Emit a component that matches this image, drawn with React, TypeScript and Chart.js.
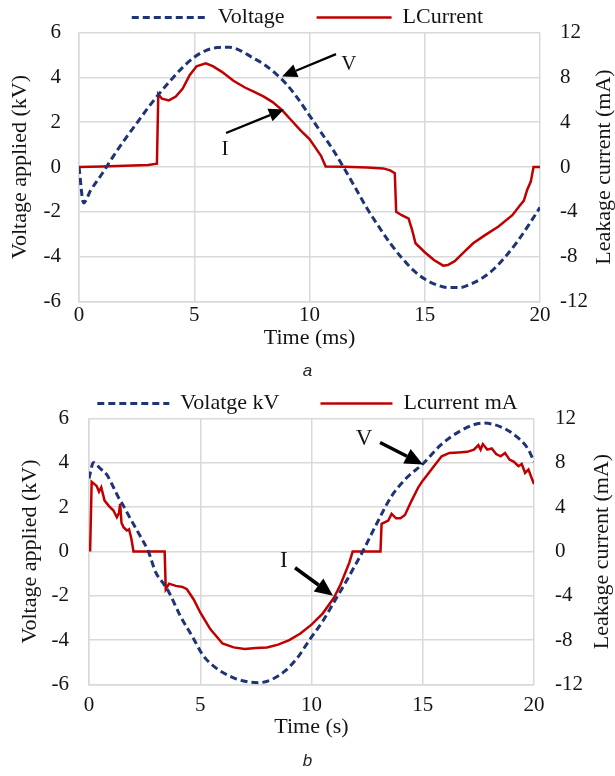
import React, { useEffect, useRef } from 'react';
import { Chart, registerables } from 'chart.js';

Chart.register(...registerables);

const SERIF = '"Liberation Serif", "Times New Roman", serif';
const SANS = '"Liberation Sans", Arial, sans-serif';
const VOLT_COLOR = '#1f3474';
const CURR_COLOR = '#c00000';
const GRID = '#d9d9d9';
const INK = '#141414';

// ---- Panel (a): one mains cycle, time in ms ----
const timeVoltageA = [0, 0.2, 0.5, 1.0, 1.5, 2.0, 2.5, 3.0, 3.5, 4.0, 4.5, 5.0, 5.5, 6.0, 6.5, 7.0, 7.5, 8.0, 8.5, 9.0, 9.5, 10.0, 10.5, 11.0, 11.5, 12.0, 12.5, 13.0, 13.5, 14.0, 14.5, 15.0, 15.5, 16.0, 16.5, 17.0, 17.5, 18.0, 18.5, 19.0, 19.5, 20.0];
const voltageA = [0, -1.6, -1.05, -0.3, 0.5, 1.25, 1.95, 2.65, 3.3, 3.9, 4.45, 4.9, 5.2, 5.33, 5.35, 5.2, 4.9, 4.6, 4.2, 3.7, 3.05, 2.3, 1.55, 0.8, -0.05, -0.95, -1.85, -2.65, -3.4, -4.05, -4.6, -5.0, -5.25, -5.38, -5.38, -5.22, -4.95, -4.55, -4.0, -3.35, -2.6, -1.8];
const timeCurrentA = [0, 1, 2, 3, 3.38, 3.44, 3.6, 3.9, 4.2, 4.5, 4.8, 5.1, 5.5, 5.8, 6.2, 6.7, 7.2, 7.6, 8.0, 8.4, 8.8, 9.2, 9.6, 10.0, 10.3, 10.5, 10.7, 11.5, 12.5, 13.2, 13.5, 13.7, 13.76, 14.0, 14.3, 14.45, 14.6, 15.0, 15.4, 15.8, 16.0, 16.3, 16.7, 17.1, 17.6, 18.2, 18.8, 19.1, 19.3, 19.45, 19.6, 19.72, 20.0];
const currentA = [0, 0.06, 0.12, 0.18, 0.3, 6.5, 6.1, 5.95, 6.3, 7.0, 8.2, 9.0, 9.25, 9.0, 8.5, 7.7, 7.1, 6.7, 6.3, 5.8, 5.1, 4.2, 3.3, 2.5, 1.6, 1.0, 0.05, 0.02, -0.05, -0.12, -0.3, -0.55, -4.0, -4.3, -4.6, -5.6, -6.8, -7.6, -8.3, -8.8, -8.75, -8.4, -7.6, -6.8, -6.1, -5.3, -4.3, -3.5, -3.0, -2.0, -1.3, 0, 0];

// ---- Panel (b): slow cycle, time in s ----
const timeVoltageB = [0, 0.2, 0.5, 0.8, 1.1, 1.4, 1.5, 1.84, 2.3, 2.67, 3.0, 3.35, 3.6, 4.1, 4.7, 5.1, 5.7, 6.5, 7.0, 7.6, 8.2, 8.8, 9.4, 9.9, 10.5, 11.0, 11.5, 12.0, 12.3, 12.9, 13.6, 14.3, 15.0, 15.8, 16.7, 17.7, 18.5, 19.2, 19.75, 20.0];
const voltageB = [3.3, 4.02, 3.75, 3.47, 2.9, 2.3, 2.15, 1.52, 0.7, 0, -0.94, -1.45, -1.85, -2.9, -3.93, -4.65, -5.25, -5.7, -5.85, -5.92, -5.78, -5.4, -4.75, -4.0, -3.15, -2.3, -1.45, -0.55, 0, 1.2, 2.5, 3.35, 3.95, 4.8, 5.45, 5.8, 5.63, 5.2, 4.6, 4.05];
const timeCurrentB = [0.05, 0.12, 0.18, 0.35, 0.45, 0.55, 0.7, 0.9, 1.1, 1.25, 1.35, 1.4, 1.46, 1.55, 1.7, 1.8, 1.9, 2.0, 3.4, 3.45, 3.6, 3.9, 4.2, 4.4, 4.7, 5.0, 5.45, 6.0, 6.5, 7.0, 7.5, 8.0, 8.5, 9.0, 9.5, 10.0, 10.5, 11.0, 11.3, 11.5, 11.7, 11.85, 13.1, 13.15, 13.45, 13.6, 13.8, 14.0, 14.2, 14.5, 14.8, 15.0, 15.2, 15.5, 15.85, 16.2, 16.6, 17.0, 17.3, 17.5, 17.6, 17.7, 17.9, 18.1, 18.3, 18.5, 18.7, 18.9, 19.1, 19.3, 19.45, 19.6, 19.75, 19.9, 20.0];
const currentB = [0, 6.3, 6.2, 5.9, 5.4, 5.8, 4.6, 4.1, 3.7, 3.1, 3.5, 4.3, 2.6, 2.2, 1.9, 2.0, 1.2, 0, 0, -3.4, -2.9, -3.1, -3.2, -3.4, -4.3, -5.5, -7.0, -8.3, -8.65, -8.8, -8.7, -8.65, -8.4, -8.0, -7.4, -6.6, -5.6, -4.2, -3.0, -2.0, -1.0, 0, 0, 2.5, 2.8, 3.4, 3.0, 3.0, 3.3, 4.6, 5.8, 6.4, 6.9, 7.7, 8.6, 8.9, 8.95, 9.0, 9.2, 9.6, 9.2, 9.7, 9.2, 9.3, 8.8, 8.6, 8.9, 8.3, 8.1, 7.7, 7.9, 7.1, 7.4, 6.6, 6.1];

// Arrow call-outs, in axis units (time, kV)
const notesA = [
  { text: 'V', at: [11.71, 4.59], tail: [11.15, 5.04], tip: [8.81, 4.04] },
  { text: 'I', at: [6.33, 0.78], tail: [6.38, 1.52], tip: [8.89, 2.57] },
];
const notesB = [
  { text: 'V', at: [12.36, 5.1], tail: [13.08, 4.92], tip: [15.01, 3.93] },
  { text: 'I', at: [8.76, -0.42], tail: [9.26, -0.73], tip: [10.97, -1.99] },
];

const toPoints = (xs: number[], ys: number[]) => xs.map((x, i) => ({ x, y: ys[i] }));

// Draws labelled arrows pointing at the curves
const arrowNotes = {
  id: 'arrowNotes',
  afterDatasetsDraw(chart: any, _args: any, opts: any) {
    const items = opts.items || [];
    const { ctx } = chart;
    const xs = chart.scales.x;
    const ys = chart.scales.y;
    items.forEach((n: any) => {
      const tx = xs.getPixelForValue(n.tail[0]);
      const ty = ys.getPixelForValue(n.tail[1]);
      const hx = xs.getPixelForValue(n.tip[0]);
      const hy = ys.getPixelForValue(n.tip[1]);
      const ang = Math.atan2(hy - ty, hx - tx);
      const head = opts.head;
      const half = head * 0.45;
      const bx = hx - Math.cos(ang) * head;
      const by = hy - Math.sin(ang) * head;
      ctx.save();
      ctx.strokeStyle = '#000';
      ctx.fillStyle = '#000';
      ctx.lineWidth = opts.width;
      ctx.beginPath();
      ctx.moveTo(tx, ty);
      ctx.lineTo(bx, by);
      ctx.stroke();
      ctx.beginPath();
      ctx.moveTo(hx, hy);
      ctx.lineTo(bx + Math.sin(ang) * half, by - Math.cos(ang) * half);
      ctx.lineTo(bx - Math.sin(ang) * half, by + Math.cos(ang) * half);
      ctx.closePath();
      ctx.fill();
      ctx.font = `${opts.size}px ${SERIF}`;
      ctx.fillStyle = INK;
      ctx.textAlign = 'center';
      ctx.textBaseline = 'middle';
      ctx.fillText(n.text, xs.getPixelForValue(n.at[0]), ys.getPixelForValue(n.at[1]));
      ctx.restore();
    });
  },
};

// Secondary-axis title, reading bottom to top
const sideTitle = {
  id: 'sideTitle',
  afterDraw(chart: any, _args: any, opts: any) {
    if (!opts.text) return;
    const { ctx, chartArea } = chart;
    const scale = chart.scales.y1;
    ctx.save();
    ctx.translate(scale.right - opts.offset, (chartArea.top + chartArea.bottom) / 2);
    ctx.rotate(-Math.PI / 2);
    ctx.font = `${opts.size}px ${SERIF}`;
    ctx.fillStyle = INK;
    ctx.textAlign = 'center';
    ctx.textBaseline = 'middle';
    ctx.fillText(opts.text, 0, 0);
    ctx.restore();
  },
};

// Legend entries drawn as line samples carrying each series' own dash
function lineLegendLabels(chart: any) {
  const items = Chart.defaults.plugins.legend.labels.generateLabels(chart);
  return items.map((item: any) => {
    const ds = chart.data.datasets[item.datasetIndex];
    return {
      ...item,
      pointStyle: 'line',
      lineDash: ds.borderDash || [],
      lineWidth: ds.borderWidth,
      strokeStyle: ds.borderColor,
      fillStyle: ds.borderColor,
    };
  });
}

type Spec = {
  tv: number[]; v: number[]; ti: number[]; i: number[];
  voltageLabel: string; currentLabel: string; xTitle: string; caption: string;
  notes: any[];
  legendTop: number; legendHeight: number; legendPad: number; legendBox: number;
  leftWidth: number; rightWidth: number; yPad: number; y1Pad: number;
  xPad: number; xHeight: number; leftTitlePad: number; rightTitleOffset: number;
  capTop: number; capBottom: number; noteSize: number; arrowWidth: number; arrowHead: number;
};

function buildConfig(p: Spec): any {
  const tickFont = { family: SERIF, size: 21 };
  const titleFont = { family: SERIF, size: 22 };
  return {
    type: 'line',
    data: {
      datasets: [
        {
          label: p.voltageLabel,
          data: toPoints(p.tv, p.v),
          yAxisID: 'y',
          borderColor: VOLT_COLOR,
          backgroundColor: VOLT_COLOR,
          borderWidth: 3,
          borderDash: [7, 4],
          pointRadius: 0,
          pointStyle: 'line',
          cubicInterpolationMode: 'monotone',
          fill: false,
        },
        {
          label: p.currentLabel,
          data: toPoints(p.ti, p.i),
          yAxisID: 'y1',
          borderColor: CURR_COLOR,
          backgroundColor: CURR_COLOR,
          borderWidth: 2.5,
          pointRadius: 0,
          pointStyle: 'line',
          tension: 0,
          fill: false,
        },
      ],
    },
    options: {
      responsive: false,
      animation: false,
      devicePixelRatio: 1,
      layout: { padding: { top: p.legendTop, left: 0, right: 0, bottom: 0 } },
      plugins: {
        legend: {
          position: 'top',
          maxHeight: p.legendHeight,
          labels: {
            usePointStyle: true,
            pointStyleWidth: p.legendBox,
            padding: p.legendPad,
            color: INK,
            font: titleFont,
            generateLabels: lineLegendLabels,
          },
        },
        title: {
          display: true,
          position: 'bottom',
          text: p.caption,
          color: '#222',
          font: { family: SANS, size: 17, style: 'italic', weight: 'normal', lineHeight: 1.2 },
          padding: { top: p.capTop, bottom: p.capBottom },
        },
        tooltip: { enabled: false },
        arrowNotes: { items: p.notes, size: p.noteSize, width: p.arrowWidth, head: p.arrowHead },
        sideTitle: { text: 'Leakage current (mA)', size: 22, offset: p.rightTitleOffset },
      },
      scales: {
        x: {
          type: 'linear',
          min: 0,
          max: 20,
          ticks: { stepSize: 5, padding: p.xPad, color: INK, font: tickFont, maxRotation: 0 },
          grid: { color: GRID, lineWidth: 1.5, drawTicks: false },
          border: { color: GRID, width: 1.5 },
          title: { display: true, text: p.xTitle, color: INK, font: titleFont, padding: 0 },
          afterFit: (s: any) => { s.height = p.xHeight; },
        },
        y: {
          position: 'left',
          min: -6,
          max: 6,
          ticks: { stepSize: 2, padding: p.yPad, color: INK, font: tickFont },
          grid: { color: GRID, lineWidth: 1.5, drawTicks: false },
          border: { color: GRID, width: 1.5 },
          title: { display: true, text: 'Voltage applied (kV)', color: INK, font: titleFont, padding: { top: p.leftTitlePad, bottom: 0 } },
          afterFit: (s: any) => { s.width = p.leftWidth; },
        },
        y1: {
          position: 'right',
          min: -12,
          max: 12,
          ticks: { stepSize: 4, padding: p.y1Pad, color: INK, font: tickFont },
          grid: { display: false, drawTicks: false },
          border: { display: false },
          afterFit: (s: any) => { s.width = p.rightWidth; },
        },
      },
    },
    plugins: [arrowNotes, sideTitle],
  };
}

const specA: Spec = {
  tv: timeVoltageA, v: voltageA, ti: timeCurrentA, i: currentA,
  voltageLabel: 'Voltage', currentLabel: 'LCurrent', xTitle: 'Time (ms)', caption: 'a',
  notes: notesA,
  legendTop: -27, legendHeight: 58, legendPad: 32, legendBox: 75,
  leftWidth: 79, rightWidth: 75, yPad: 18, y1Pad: 20,
  xPad: 1, xHeight: 49.7, leftTitlePad: 7, rightTitleOffset: 11,
  capTop: 9.6, capBottom: 3.8, noteSize: 21, arrowWidth: 2.2, arrowHead: 15,
};

const specB: Spec = {
  tv: timeVoltageB, v: voltageB, ti: timeCurrentB, i: currentB,
  voltageLabel: 'Volatge kV', currentLabel: 'Lcurrent mA', xTitle: 'Time (s)', caption: 'b',
  notes: notesB,
  legendTop: -35, legendHeight: 67, legendPad: 41, legendBox: 72,
  leftWidth: 89, rightWidth: 81, yPad: 20, y1Pad: 21,
  xPad: 8, xHeight: 55.7, leftTitlePad: 17, rightTitleOffset: 13,
  capTop: 10.6, capBottom: 4.8, noteSize: 23, arrowWidth: 3.5, arrowHead: 18,
};

function Panel({ spec, top, height }: { spec: Spec; top: number; height: number }) {
  const ref = useRef<HTMLCanvasElement>(null);
  useEffect(() => {
    const chart = new Chart(ref.current as HTMLCanvasElement, buildConfig(spec));
    return () => chart.destroy();
  }, [spec]);
  return (
    <canvas
      ref={ref}
      width={615}
      height={height}
      style={{ position: 'absolute', left: 0, top, width: 615, height }}
    />
  );
}

export default function App() {
  return (
    <div style={{ position: 'absolute', left: 0, top: 0, width: 615, height: 776, background: '#fff' }}>
      <Panel spec={specA} top={0} height={385} />
      <Panel spec={specB} top={385} height={391} />
    </div>
  );
}
